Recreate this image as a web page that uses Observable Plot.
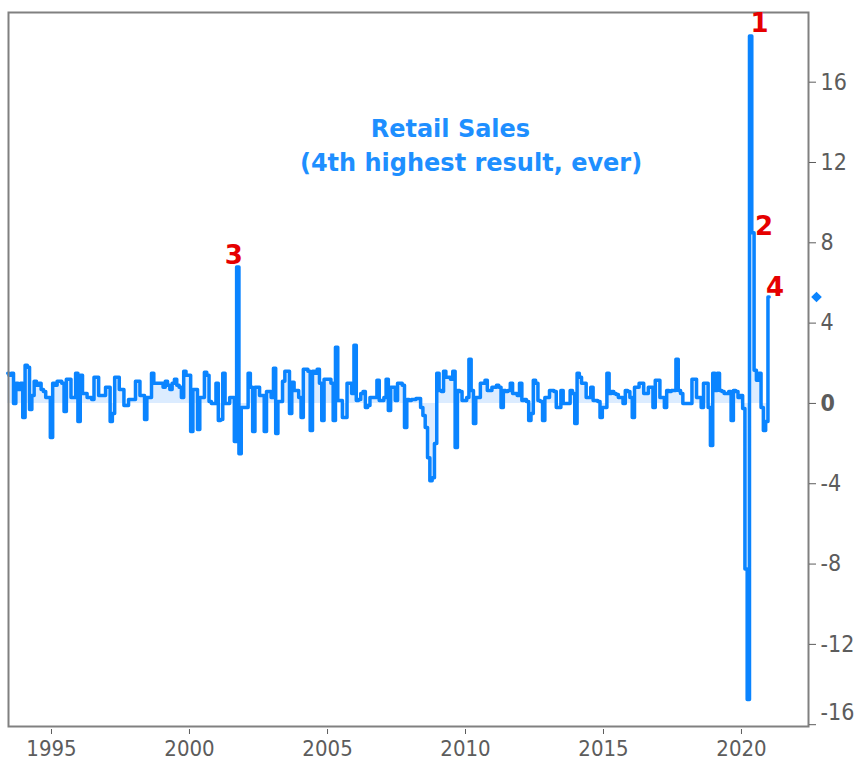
<!DOCTYPE html>
<html>
<head>
<meta charset="utf-8">
<script src="https://cdn.jsdelivr.net/npm/d3@7"></script>
<script src="https://cdn.jsdelivr.net/npm/@observablehq/plot@0.6"></script>
<style>
  html, body { margin: 0; padding: 0; background: #fff; }
  #chart { width: 859px; height: 762px; }
</style>
</head>
<body>
<div id="chart"></div>
<script>
// Monthly % change in US retail sales, starting June 1993
const firstMonth = "1993-06";
const v1993 = [1.5, 1.4, 1.5, 0.0, 1.0, 0.7, 1.0];
const v1994 = [-0.7, 1.9, 1.8, -0.3, 0.4, 1.1, 0.9, 1.0, 0.7, 0.6, 0.3, 0.3];
const v1995 = [-1.7, 1.0, 0.9, 1.1, 1.1, 1.0, -0.4, 1.2, 1.2, 0.3, 0.3, 1.5];
const v1996 = [-0.9, 1.4, 0.5, 0.5, 0.3, 0.3, 0.2, 1.3, 1.3, 0.4, 0.4, 0.4];
const v1997 = [0.8, 0.8, -0.9, -0.5, 1.3, 1.3, 0.7, 0.7, -0.1, -0.1, 0.2, 0.2];
const v1998 = [0.2, 1.1, 1.1, 0.4, 0.4, -0.8, 0.3, 0.3, 1.5, 1.0, 1.0, 1.0];
const v1999 = [1.0, 0.8, 1.1, 0.9, 0.7, 1.0, 1.2, 0.9, 0.8, 0.3, 1.6, 1.4];
const v2000 = [1.4, -1.4, 0.7, 0.7, -1.3, 0.3, 0.3, 1.55, 1.4, 0.1, 0.0, 0.0];
const v2001 = [1.0, -0.85, -0.8, 1.5, 0.0, 0.0, 0.3, 0.3, -1.9, 6.8, -2.5, -0.2];
const v2002 = [-0.2, -0.2, 1.5, 0.8, -1.4, 0.8, 0.8, 0.4, 0.4, -1.4, 0.6, 0.6];
const v2003 = [0.3, 1.75, -1.5, 0.1, 0.1, 1.1, 1.6, 1.6, -0.5, 1.05, 0.65, 0.65];
const v2004 = [0.3, -0.7, 1.7, 1.7, 1.6, -1.35, 1.6, 1.5, 1.7, 1.0, -0.85, 1.2];
const v2005 = [1.2, 1.2, 1.0, -0.85, 2.8, 0.15, 0.15, -0.7, -0.7, 1.0, 1.0, 0.5];
const v2006 = [2.9, 0.15, 0.2, 0.5, 0.6, -0.2, -0.1, 0.3, 0.3, 0.3, 1.15, 0.15];
const v2007 = [0.15, 0.3, 1.2, -0.35, 0.8, 0.8, 0.15, 1.0, 1.0, 0.9, -1.2, 0.2];
const v2008 = [0.15, 0.2, 0.2, 0.25, 0.25, -0.2, -0.6, -1.2, -2.7, -3.85, -3.7, -2.0];
const v2009 = [1.5, 0.65, 0.6, 1.6, 1.3, 1.3, 1.2, 1.6, -2.2, 0.65, 0.6, 0.15];
const v2010 = [0.15, 0.3, 2.2, 0.65, -1.0, 0.3, 0.3, 1.0, 1.0, 1.15, 0.65, 0.65];
const v2011 = [0.8, 0.8, 0.9, 0.8, -0.2, 0.65, 0.6, 0.65, 1.0, 0.5, 0.5, 0.4];
const v2012 = [1.0, 0.15, 0.2, 0.1, -0.85, -0.5, 1.15, 1.0, 0.15, 0.1, -0.85, 0.3];
const v2013 = [0.3, 0.65, 0.65, 0.6, -0.2, -0.2, 0.65, 0.0, 0.0, 0.0, 0.65, 0.5];
const v2014 = [-1.0, 1.5, 1.3, 1.0, 1.0, 0.3, 0.3, 0.8, 0.15, 0.15, 0.1, -0.7];
const v2015 = [-0.2, -0.2, 1.5, 0.5, 0.6, 0.5, 0.45, 0.3, 0.3, 0.0, 0.65, 0.6];
const v2016 = [0.3, -0.7, 0.8, 0.8, 1.0, 1.0, 0.5, 0.5, 0.8, 0.8, -0.2, 1.15];
const v2017 = [1.15, 0.3, 0.3, -0.2, 0.65, 0.6, 0.65, 0.65, 2.2, 0.65, 0.5, 0.0];
const v2018 = [0.0, 0.0, 0.0, 1.2, 1.2, 0.3, 0.3, -0.2, 1.0, 1.0, -0.2, -2.1];
const v2019 = [1.5, 0.65, 1.5, 0.65, 0.6, 0.5, 0.5, 0.6, -0.85, 0.65, 0.6, 0.3];
const v2020 = [0.4, -0.25, -8.25, -14.75, 18.3, 8.5, 1.65, 1.15, 1.5, -0.2, -1.35, -0.9];
const v2021 = [5.3];

// Ranked highest results (labels)
const rankMonths = ["2020-05", "2020-06", "2001-10", "2021-01"];
const rankLabels = ["1", "2", "3", "4"];

// Title lines
const titleLines = ["Retail Sales", "(4th highest result, ever)"];

// Axis ticks
const xTickYears = [1995, 2000, 2005, 2010, 2015, 2020];
const yTicks = [-16, -12, -8, -4, 0, 4, 8, 12, 16];

// ---- build table ----
const values = [].concat(v1993, v1994, v1995, v1996, v1997, v1998, v1999, v2000,
  v2001, v2002, v2003, v2004, v2005, v2006, v2007, v2008, v2009, v2010, v2011,
  v2012, v2013, v2014, v2015, v2016, v2017, v2018, v2019, v2020, v2021);
const start = d3.utcParse("%Y-%m")(firstMonth);
const data = values.map((v, i) => ({date: d3.utcMonth.offset(start, i), value: v}));
const byMonth = new Map(data.map(d => [d3.utcFormat("%Y-%m")(d.date), d]));
const ranks = rankMonths.map((m, i) => ({...byMonth.get(m), label: rankLabels[i]}));

const lineColor = "#0a84ff";
const axisFont = "'Liberation Sans Narrow', 'DejaVu Sans Condensed', 'DejaVu Sans', sans-serif";
const boldFont = "'DejaVu Sans', sans-serif";

// per-label offsets (styling)
const rankOffsets = {"1": [9, -12.5], "2": [11, -6], "3": [-4, -11.5], "4": [6, -9]};

const chart = Plot.plot({
  width: 859,
  height: 762,
  marginLeft: 8,
  marginRight: 51,
  marginTop: 12,
  marginBottom: 36,
  style: {fontFamily: axisFont, fontSize: "22px", color: "#5c5c5c", background: "#fff", overflow: "visible"},
  x: {type: "utc", domain: [new Date(Date.UTC(1993, 5, 11)), new Date(Date.UTC(2022, 5, 6))]},
  y: {domain: [-16.09, 19.47]},
  marks: [
    Plot.areaY(data, {x: "date", y: "value", curve: "step", fill: "#dcecff"}),
    Plot.lineY(data, {x: "date", y: "value", curve: "step", stroke: lineColor, strokeWidth: 3.5}),
    Plot.frame({stroke: "#808080", strokeWidth: 2}),
    Plot.axisX({
      ticks: xTickYears.map(y => new Date(Date.UTC(y, 0, 1))),
      tickFormat: d3.utcFormat("%Y"),
      tickSize: 5, dy: 3, tickPadding: 6, label: null,
      fontFamily: axisFont, fontSize: 22
    }),
    Plot.axisY({
      anchor: "right", ticks: yTicks,
      tickFormat: d => d === -16 ? "" : String(d),
      tickSize: 7, tickPadding: 5, label: null,
      fontFamily: axisFont, fontSize: 23
    }),
    Plot.axisY({
      anchor: "right", ticks: [-16],
      tickFormat: d => String(d),
      tickSize: 0, tickPadding: 12, dy: -12, label: null,
      fontFamily: axisFont, fontSize: 23
    }),
    Plot.dot(values.slice(-1), {y: d => d, frameAnchor: "right", dx: 8, symbol: "diamond2", r: 4.8, fill: lineColor}),
    ...ranks.map(r => Plot.text([r], {
      x: "date", y: "value", text: "label",
      dx: rankOffsets[r.label][0], dy: rankOffsets[r.label][1],
      fill: "#e60000", fontWeight: "bold", fontSize: 26, fontFamily: boldFont
    })),
    Plot.text([titleLines[0]], {x: () => new Date(Date.UTC(2009, 5, 15)), y: () => 13.67, text: d => d,
      fill: "#1e8fff", fontWeight: "bold", fontSize: 24, fontFamily: boldFont}),
    Plot.text([titleLines[1]], {x: () => new Date(Date.UTC(2010, 2, 15)), y: () => 11.95, text: d => d,
      fill: "#1e8fff", fontWeight: "bold", fontSize: 24, fontFamily: boldFont})
  ]
});

// zero label appears bold in the original
d3.select(chart).selectAll("g[aria-label='y-axis tick label'] text")
  .filter(function() { return this.textContent === "0"; })
  .attr("font-weight", "bold");

document.getElementById("chart").appendChild(chart);
</script>
</body>
</html>
